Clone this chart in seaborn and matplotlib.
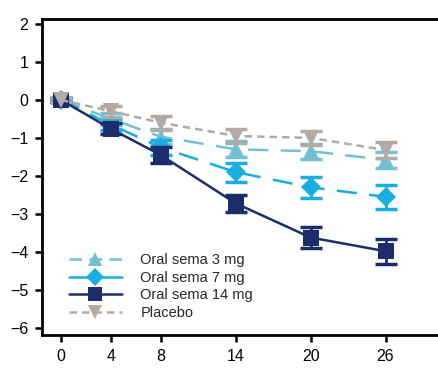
import numpy as np
import pandas as pd
import matplotlib
matplotlib.use("Agg")
import matplotlib.pyplot as plt
from matplotlib.lines import Line2D
import seaborn as sns

weeks = [0, 4, 8, 14, 20, 26]
sema3 = [0.0, -0.5, -0.97, -1.3, -1.35, -1.58]
sema3_err = [0.05, 0.15, 0.2, 0.21, 0.2, 0.2]
sema7 = [0.0, -0.65, -1.25, -1.9, -2.3, -2.55]
sema7_err = [0.05, 0.15, 0.2, 0.25, 0.27, 0.32]
sema14 = [0.0, -0.76, -1.45, -2.72, -3.62, -3.98]
sema14_err = [0.05, 0.15, 0.2, 0.23, 0.28, 0.33]
placebo = [0.0, -0.3, -0.6, -0.95, -1.0, -1.32]
placebo_err = [0.05, 0.15, 0.18, 0.18, 0.18, 0.2]

labels = ["Oral sema 3 mg", "Oral sema 7 mg", "Oral sema 14 mg", "Placebo"]
colors = ["#72c0d4", "#19ade0", "#1b2d6b", "#b2aaa3"]
markers = ["^", "D", "s", "v"]
dashes = [(8, 5), (8, 5), (), (3, 2)]
msizes = [11, 10, 11, 11]

sns.set_style("ticks")
plt.rcParams["font.family"] = ["Liberation Sans", "DejaVu Sans"]

fig = plt.figure(figsize=(4.38, 3.70), dpi=100)
ax = fig.add_axes([0.096, 0.095, 0.904, 0.854])

series = [(sema3, sema3_err), (sema7, sema7_err), (sema14, sema14_err), (placebo, placebo_err)]
order = [3, 0, 1, 2]  # draw placebo first
for i in order:
    vals, err = series[i]
    df = pd.DataFrame({"week": weeks, "value": vals})
    ax.errorbar(weeks, vals, yerr=err, fmt="none", ecolor=colors[i],
                elinewidth=2, capsize=8, capthick=2.5, zorder=2 + i)
    sns.lineplot(data=df, x="week", y="value", ax=ax, color=colors[i],
                 marker=markers[i], markersize=msizes[i], markeredgewidth=0,
                 linewidth=1.8, dashes=False, zorder=3 + i)
    if dashes[i]:
        ax.lines[-1].set_dashes(dashes[i])

ax.set_xlim(-1.5, 30.2)
ax.set_ylim(-6.18, 2.13)
ax.set_xticks(weeks)
ax.set_yticks(range(-6, 3))
ax.set_xlabel("")
ax.set_ylabel("")

for side in ["left", "bottom", "top"]:
    ax.spines[side].set_linewidth(2)
    ax.spines[side].set_color("black")
ax.spines["right"].set_visible(False)
ax.tick_params(axis="both", direction="out", length=5, width=1.8,
               labelsize=11.5, colors="black", pad=5)
ax.tick_params(top=False)

handles = []
leg_dashes = [(5, 3), (), (), (3, 2)]
for i in range(4):
    h = Line2D([], [], color=colors[i], marker=markers[i], markersize=msizes[i] - 1,
               markeredgewidth=0, linewidth=1.8)
    if leg_dashes[i]:
        h.set_dashes(leg_dashes[i])
    handles.append(h)
ax.legend(handles, labels, loc="lower left", bbox_to_anchor=(0.035, 0.005),
          frameon=False, fontsize=10.5, handlelength=3.6, labelspacing=0.25,
          handletextpad=1.3)

fig.savefig("out.png", dpi=100)
